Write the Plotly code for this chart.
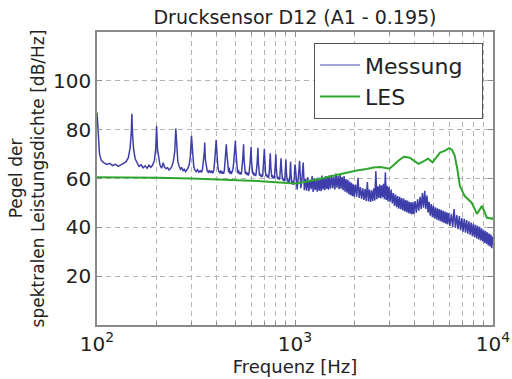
import plotly.graph_objects as go

# ---------------- data ----------------
# Measured spectrum (Messung): harmonic part 100 Hz - 1 kHz
mess_f_low = [100, 101.5, 103, 105, 108, 112, 116, 120, 124, 128, 132, 136, 140, 144, 147, 149, 150, 151, 153, 156,
              159, 163, 167, 171, 175, 179, 183, 187, 191, 195, 198, 200, 202, 205, 208, 212, 216, 219, 223, 227,
              231, 235, 239, 243, 247, 250, 253, 256, 260, 264, 268, 272, 276, 280, 284, 288, 292, 296, 300, 304,
              308, 312, 317, 322, 327, 332, 337, 341, 344, 347, 349, 350, 351, 353, 356, 360, 365, 370, 375, 380,
              385, 389, 392, 395, 398, 400, 402, 405, 408, 412, 417, 422, 427, 432, 436, 440, 443, 446, 448, 450,
              452, 455, 458, 462, 466, 469, 473, 477, 481, 485, 489, 493, 496, 498, 500, 502, 505, 509, 513, 518,
              523, 528, 533, 537, 541, 544, 547, 549, 550, 551, 554, 557, 561, 566, 571, 576, 581, 586, 590, 594,
              597, 599, 600, 601, 604, 608, 612, 617, 622, 627, 632, 636, 640, 644, 647, 649, 650, 651, 654, 658,
              662, 667, 672, 677, 682, 687, 691, 695, 698, 700, 702, 705, 709, 714, 719, 724, 729, 734, 738, 742,
              745, 748, 750, 752, 755, 759, 764, 769, 774, 779, 784, 788, 792, 795, 798, 800, 802, 805, 809, 814,
              819, 824, 829, 834, 838, 842, 845, 848, 850, 852, 855, 859, 864, 869, 874, 879, 884, 888, 892, 895,
              898, 900, 902, 905, 909, 914, 919, 924, 929, 934, 938, 942, 945, 948, 950, 952, 955, 959, 964, 969,
              974, 979, 984, 988, 992, 995, 998, 1000]
mess_db_low = [87, 76, 70, 67.5, 66.5, 65.8, 66.2, 65.3, 65.8, 65.0, 65.6, 65.9, 66.8, 68.5, 72.5, 79, 86.5, 79, 72, 68,
               66.5, 65, 65.6, 64.4, 65.2, 64.2, 65.4, 64.6, 65.5, 67.5, 72, 81.5, 72, 67.5, 65.5, 64.2, 66.5, 64.8, 64, 64.5,
               63.5, 64, 65, 67, 71, 80.5, 71, 67, 65, 63.8, 64.5, 63.2, 63.8, 62.8, 63.5, 64.2, 65.5, 69, 77.5, 69,
               65, 63.5, 62.8, 63.6, 62.6, 63.2, 62.5, 63.8, 66, 69.5, 72, 74.7, 71.5, 67.5, 64.5, 63.2, 62.5, 63.4, 62.3, 63,
               62.2, 63.5, 66, 69.5, 73, 75.8, 72.5, 68, 64.5, 63, 62.2, 63.3, 62, 62.8, 61.9, 63.5, 66, 69.5, 72, 74,
               71, 67, 64, 62.5, 64.5, 62, 63, 61.8, 62.8, 63.5, 65.5, 68.5, 71.5, 73.5, 75.4, 72, 67.5, 64, 62.2, 63.5,
               61.8, 62.6, 61.6, 62.5, 64.5, 67.5, 70.5, 72.5, 74, 71.5, 67, 64, 62, 62.8, 61.5, 62.4, 61.2, 62.2, 64, 67,
               70, 72, 73, 70.5, 66.5, 63.5, 61.8, 62.6, 61.2, 62, 61, 61.8, 63.5, 66.5, 69.5, 71.5, 72.6, 70, 66, 63,
               61.2, 62, 60.8, 61.6, 60.6, 61.4, 63.5, 66.5, 70, 72.2, 69, 65.5, 62.8, 61, 61.8, 60.5, 61.3, 60.3, 61, 63,
               66, 68.5, 70.3, 68, 64.5, 62, 60.5, 61.4, 60.2, 61, 60, 60.8, 62.5, 65.5, 68, 69.9, 67.5, 64, 61.5, 60,
               60.8, 59.6, 60.5, 59.5, 60.3, 62, 64.5, 66.8, 68.3, 66, 63, 60.8, 59.5, 60.3, 59, 59.8, 58.8, 59.8, 61.5, 64,
               66.5, 67.8, 65.5, 62.5, 60.2, 58.8, 59.8, 58.5, 59.4, 58.2, 59.2, 61, 63.5, 65.5, 66.9, 64.5, 61.5, 59.5, 58, 59,
               57.6, 58.6, 57.4, 58.4, 60.5, 63, 65, 65.8]

# Measured spectrum (Messung): broadband part 1 kHz - 10 kHz
mess_f_high = [1010, 1025, 1040, 1055, 1070, 1085, 1100, 1115, 1130, 1145, 1160, 1175, 1190, 1205, 1220, 1235, 1250,
               1265, 1280, 1295, 1310, 1325, 1340, 1355, 1370, 1385, 1400, 1415, 1430, 1445, 1460, 1475, 1490,
               1510, 1530, 1550, 1570, 1590, 1610, 1630, 1650, 1670, 1690, 1710, 1730, 1750, 1770, 1790, 1810,
               1830, 1850, 1870, 1890, 1910, 1930, 1950, 1970, 1990,
               2020, 2050, 2080, 2110, 2140, 2170, 2200, 2230, 2260, 2290, 2320, 2350, 2380, 2410, 2440, 2470,
               2500, 2530, 2560, 2590, 2620, 2650, 2680, 2710, 2740, 2770, 2800, 2830, 2860, 2890, 2920, 2950, 2980,
               3020, 3060, 3100, 3140, 3180, 3220, 3260, 3300, 3340, 3380, 3420, 3460, 3500, 3540, 3580, 3620,
               3660, 3700, 3740, 3780, 3820, 3860, 3900, 3940, 3980,
               4040, 4100, 4160, 4220, 4280, 4340, 4400, 4460, 4520, 4580, 4640, 4700, 4760, 4820, 4880, 4940,
               5000, 5060, 5120, 5180, 5240, 5300, 5360, 5420, 5480, 5540, 5600, 5660, 5720, 5780, 5840, 5900, 5960,
               6060, 6160, 6260, 6360, 6460, 6560, 6660, 6760, 6860, 6960, 7060, 7160, 7260, 7360, 7460, 7560,
               7660, 7760, 7860, 7960, 8060, 8160, 8260, 8360, 8460, 8560, 8660, 8760, 8860, 8960, 9060, 9160,
               9260, 9360, 9460, 9560, 9660, 9760, 9860, 9960, 10000]
mess_db_high = [62.5, 55.5, 60.5, 67.2, 56, 60, 66.5, 55.2, 59.8, 55, 60.5, 54.8, 59.5, 55.6, 61, 54.5, 60,
                55.3, 59.5, 54.6, 60.4, 55, 59.8, 54.8, 61.2, 55.5, 60, 55.2, 61, 55.8, 60.5, 55.4, 61.3,
                55.8, 61.5, 56, 60.8, 55.5, 62, 56.2, 61, 55.6, 61.5, 55.8, 60.6, 55.2, 61, 54.6, 59.8,
                54.2, 59.5, 53.6, 58.8, 53.2, 58.2, 52.8, 57.6, 52.5,
                57.5, 52.5, 60.3, 52, 56.5, 51.6, 56, 51.2, 55.8, 50.8, 58.5, 50.6, 55.5, 50.4, 55.2, 50.8,
                56, 51, 63, 51.5, 56.8, 52, 57.5, 51.8, 57.2, 52.2, 57.8, 51.5, 62.5, 51.2, 57, 50.6, 56.5,
                50.4, 55.5, 49.8, 54, 48.8, 53.4, 48.2, 52.8, 47.6, 52.5, 47.4, 52, 46.9, 51.8, 46.5, 51.2,
                46.2, 51, 45.8, 50.5, 45.6, 50.2, 45.3, 50.4, 45.5,
                50.8, 46, 51.5, 46.8, 52.5, 47.5, 54, 48, 55, 47.5, 53, 46, 50.5, 44.8, 49.5, 44.2,
                48.8, 43.6, 48.2, 43.2, 47.8, 42.8, 47.5, 42.5, 47.2, 42.2, 46.8, 41.8, 46.5, 41.5, 46.2, 41.2, 45.8,
                40.6, 45.5, 40.2, 47.5, 39.8, 45, 39.2, 44.6, 38.8, 43.8, 38.2, 43.5, 37.8, 43, 37.4, 42.5,
                37, 42, 36.4, 41.5, 36, 41, 35.5, 40.6, 35, 40.2, 34.6, 39.6, 34.2, 39, 33.6, 38.5,
                33.2, 38, 32.6, 37.5, 32.2, 37, 31.5, 36.2, 33]

# LES spectrum
les_f = [100, 150, 200, 300, 400, 500, 600, 700, 800, 900, 1000, 1100, 1250, 1400, 1600, 1800, 2050, 2300, 2500,
         2700, 2900, 3000, 3150, 3350, 3550, 3800, 4000, 4200, 4450, 4700, 4950, 5150, 5400, 5700, 6000, 6200,
         6400, 6600, 6800, 7200, 7800, 8300, 8800, 9300, 9900, 10000]
les_db = [60.5, 60.5, 60.3, 60.0, 59.7, 59.4, 59.1, 58.8, 58.5, 58.2, 58.0, 58.5, 59.3, 60.2, 61.3, 62.3, 63.3, 63.9, 64.5,
          64.7, 64.2, 64.0, 65.5, 67.5, 68.9, 68.5, 67.2, 66.0, 67.0, 68.1, 66.6, 68.5, 70.6, 71.3, 72.4, 71.8,
          69.5, 64.0, 57.0, 52.8, 50.1, 45.5, 48.8, 44.0, 43.5, 44.0]

title_text = "Drucksensor D12 (A1 - 0.195)"
x_label = "Frequenz [Hz]"
y_label = "Pegel der<br>spektralen Leistungsdichte [dB/Hz]"
y_ticks = [20, 40, 60, 80, 100]
x_major = [100, 1000, 10000]
x_major_text = ["10<sup>2</sup>", "10<sup>3</sup>", "10<sup>4</sup>"]
x_minor = [200, 300, 400, 500, 600, 700, 800, 900, 2000, 3000, 4000, 5000, 6000, 7000, 8000, 9000]

# ---------------- figure ----------------
BLUE = "#3e3eaa"
BLUE_LEGEND = "#a3a3dc"
GREEN = "#2fa52f"
GRID = "#b4b4b4"
FRAME = "#8a8a8a"
FONT = "DejaVu Sans"
TXT = "#222222"

fig = go.Figure()
fig.add_trace(go.Scatter(x=mess_f_low + mess_f_high, y=mess_db_low + mess_db_high, mode="lines",
                         line=dict(color=BLUE, width=1.5), showlegend=False, hoverinfo="skip"))
fig.add_trace(go.Scatter(x=les_f, y=les_db, mode="lines", line=dict(color=GREEN, width=2),
                         showlegend=False, hoverinfo="skip"))
# legend entries
fig.add_trace(go.Scatter(x=[None], y=[None], mode="lines", name="Messung  ",
                         line=dict(color=BLUE_LEGEND, width=2)))
fig.add_trace(go.Scatter(x=[None], y=[None], mode="lines", name="LES",
                         line=dict(color=GREEN, width=2)))

fig.update_layout(
    width=512, height=379,
    margin=dict(l=97, r=19, t=32, b=54, autoexpand=False),
    paper_bgcolor="white", plot_bgcolor="white",
    font=dict(family=FONT, color=TXT, size=18),
    title=dict(text=title_text, x=0.5, xref="paper", y=0.955, yref="container",
               xanchor="center", yanchor="middle", font=dict(size=19, family=FONT, color=TXT)),
    legend=dict(x=0.975, y=0.962, xanchor="right", yanchor="top", bgcolor="white",
                bordercolor="#555555", borderwidth=1, font=dict(size=22, family=FONT, color=TXT),
                itemwidth=40, tracegroupgap=0),
    showlegend=True,
)
fig.update_xaxes(
    type="log", range=[2, 4], automargin=False,
    tickvals=x_major, ticktext=x_major_text, tickfont=dict(size=20, family=FONT, color=TXT),
    ticks="inside", ticklen=5, tickcolor=FRAME,
    showgrid=True, gridcolor=GRID, griddash="5px,4px", gridwidth=1,
    minor=dict(tickvals=x_minor, ticks="inside", ticklen=3, tickcolor=FRAME,
               showgrid=True, gridcolor=GRID, griddash="5px,4px", gridwidth=1),
    showline=True, linecolor=FRAME, linewidth=1.5, mirror="allticks",
    title=dict(text=x_label, font=dict(size=18, family=FONT, color=TXT), standoff=4),
    zeroline=False,
)
fig.update_yaxes(
    range=[0, 120], tickvals=y_ticks, tickfont=dict(size=20, family=FONT, color=TXT), automargin=False,
    ticks="inside", ticklen=5, tickcolor=FRAME,
    showgrid=True, gridcolor=GRID, griddash="5px,4px", gridwidth=1,
    showline=True, linecolor=FRAME, linewidth=1.5, mirror="allticks",
    title=dict(text=y_label, font=dict(size=17, family=FONT, color=TXT), standoff=4),
    zeroline=False,
)

fig.write_html("out.html")
